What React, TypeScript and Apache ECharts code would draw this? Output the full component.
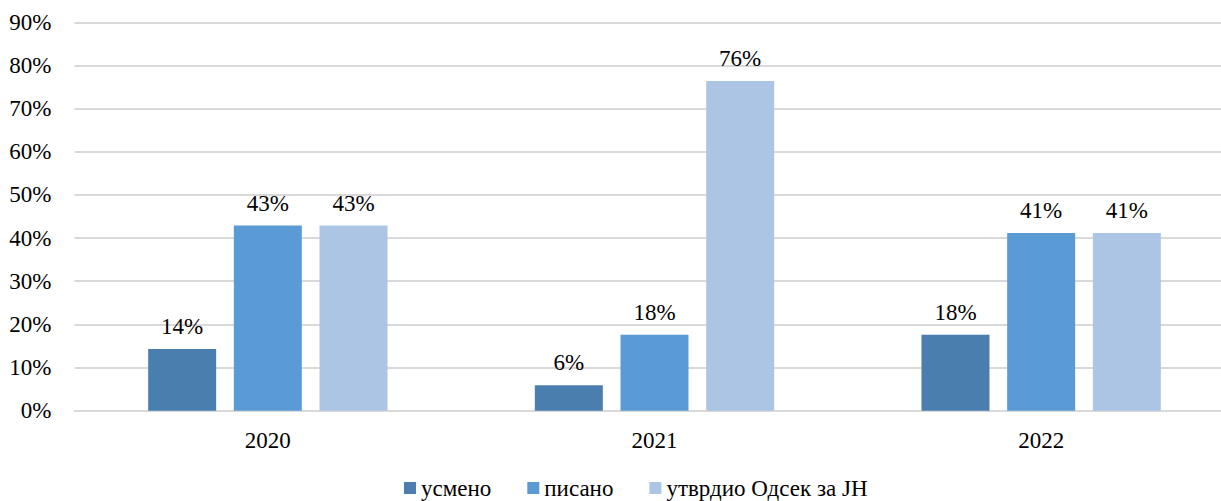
import React, { useEffect, useRef } from "react";
import * as echarts from "echarts";

const categories = ["2020", "2021", "2022"];
const seriesNames = ["усмено", "писано", "утврдио Одсек за ЈН"];
const usmeno = [14.3, 5.9, 17.6];
const pisano = [42.9, 17.6, 41.2];
const utvrdio = [42.9, 76.4, 41.2];
const yTicks = { min: 0, max: 90, interval: 10 };
const colors = ["#4A7EAF", "#5B9BD5", "#ADC5E5"];

export default function App() {
  const ref = useRef<HTMLDivElement>(null);
  useEffect(() => {
    if (!ref.current) return;
    const chart = echarts.init(ref.current, undefined, { renderer: "svg" });
    const font = "Liberation Serif";
    const fs = 23;
    const mk = (name: string, data: number[], color: string) => ({
      name,
      type: "bar",
      data,
      barWidth: 68,
      barGap: "26%",
      itemStyle: { color },
      label: {
        show: true,
        position: "top",
        distance: 11,
        formatter: (p: any) => Math.round(p.value) + "%",
        fontFamily: font,
        fontSize: fs,
        color: "#000",
      },
    });
    chart.setOption({
      animation: false,
      textStyle: { fontFamily: font },
      grid: {
        left: 74.5,
        top: 22.3,
        height: 388.4,
        width: 1160,
        containLabel: false,
        outerBoundsMode: "none",
      },
      legend: {
        data: seriesNames,
        left: 399,
        top: 470,
        itemWidth: 12,
        itemHeight: 12,
        itemGap: 36,
        icon: "rect",
        textStyle: { fontFamily: font, fontSize: fs, color: "#000", lineHeight: 26 },
      },
      xAxis: {
        type: "category",
        data: categories,
        axisLine: { show: true, lineStyle: { color: "#D9D9D9", width: 2 } },
        axisTick: { show: false },
        axisLabel: { margin: 18, fontFamily: font, fontSize: fs, color: "#000" },
      },
      yAxis: {
        type: "value",
        min: yTicks.min,
        max: yTicks.max,
        interval: yTicks.interval,
        axisLine: { show: false },
        axisTick: { show: false },
        splitLine: { lineStyle: { color: "#D9D9D9", width: 2 } },
        axisLabel: {
          margin: 23,
          formatter: (v: number) => v + "%",
          fontFamily: font,
          fontSize: fs,
          color: "#000",
        },
      },
      series: [
        mk(seriesNames[0], usmeno, colors[0]),
        mk(seriesNames[1], pisano, colors[1]),
        mk(seriesNames[2], utvrdio, colors[2]),
      ],
    });
    return () => chart.dispose();
  }, []);
  return (
    <div
      ref={ref}
      style={{ position: "fixed", left: 0, top: 0, width: 1221, height: 501, background: "#fff" }}
    />
  );
}
